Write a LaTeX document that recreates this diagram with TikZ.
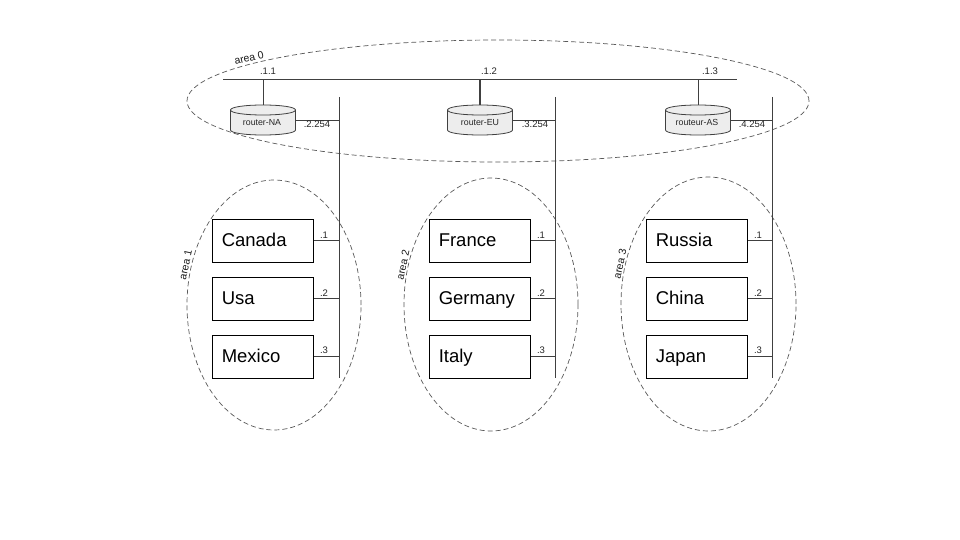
\documentclass[tikz,border=0pt]{standalone}
\usepackage{fontspec}
\setmainfont{Liberation Sans}
\usetikzlibrary{shapes.geometric}
\begin{document}
\begin{tikzpicture}[x=1pt,y=-1pt,
  wire/.style={draw=black!75,line width=0.8pt},
  thickwire/.style={draw=black!75,line width=1.6pt},
  area/.style={shape=ellipse,draw=black!65,dash pattern=on 5pt off 3pt,line width=0.7pt,inner sep=0pt},
  country/.style={shape=rectangle,draw=black,line width=0.8pt,minimum width=101.5pt,minimum height=43pt,inner sep=0pt,font=\fontsize{18.5}{20}\selectfont,text width=82pt,align=left,text height=11.2pt,text depth=0pt},
  router/.style={shape=rectangle,minimum width=65pt,minimum height=30pt,inner sep=0pt,font=\fontsize{8.8}{10}\selectfont,text=black!85,text height=12pt,text depth=0pt},
  cyl/.style={draw=black!75,fill=black!7,line width=0.8pt},
  cyltop/.style={draw=black!75,line width=0.8pt},
  lab/.style={font=\fontsize{9.5}{10}\selectfont,inner sep=0pt,text=black!85},
  arealab/.style={font=\fontsize{10.5}{12}\selectfont,inner sep=0pt,text=black!90}]
\useasboundingbox (0,0) rectangle (960,540);
\fill[white] (0,0) rectangle (960,540);
% areas
\node[area,minimum width=622pt,minimum height=122pt] (a0) at (498,101) {};
\node[area,minimum width=174pt,minimum height=250pt] (a1) at (274,305) {};
\node[area,minimum width=174pt,minimum height=253pt] (a2) at (491,304.5) {};
\node[area,minimum width=175pt,minimum height=254pt] (a3) at (708.5,304) {};
% buses
\coordinate (top1) at (223,79.5); \coordinate (top2) at (737,79.5);
\coordinate (t1) at (263,79.5); \coordinate (t2) at (480,79.5); \coordinate (t3) at (698,79.5);
\draw[wire] (top1) -- (top2);
\foreach \n/\x in {1/339,2/555.5,3/772.5}{
  \coordinate (s\n) at (\x,97);
  \coordinate (e\n) at (\x,378);
  \coordinate (r\n) at (\x,120);
  \coordinate (h\n a) at (\x,240.5);
  \coordinate (h\n b) at (\x,298.5);
  \coordinate (h\n c) at (\x,356.5);
  \draw[wire] (s\n) -- (e\n);
}
% router cylinders
\foreach \x in {263,480,698}{
  \begin{scope}[shift={(\x,120)}]
    \path[cyl] (-32.5,-10) .. controls (-32.5,-13) and (-18,-15) .. (0,-15)
      .. controls (18,-15) and (32.5,-13) .. (32.5,-10) -- (32.5,10)
      .. controls (32.5,13) and (18,15) .. (0,15)
      .. controls (-18,15) and (-32.5,13) .. (-32.5,10) -- cycle;
    \path[cyltop] (-32.5,-10) .. controls (-32.5,-7) and (-18,-5) .. (0,-5)
      .. controls (18,-5) and (32.5,-7) .. (32.5,-10);
  \end{scope}
}
\node[router] (rna) at (262,120) {router-NA};
\node[router] (reu) at (480,120) {router-EU};
\node[router] (ras) at (697,120) {routeur-AS};
\draw[wire] (t1) -- (t1 |- rna.north);
\draw[thickwire] (t2) -- (t2 |- reu.north);
\draw[wire] (t3) -- (t3 |- ras.north);
\draw[wire] (rna.east) ++(1,0) -- (r1);
\draw[wire] (reu.east) -- (r2);
\draw[wire] (ras.east) ++(1,0) -- (r3);
% countries
\node[country] (ca) at (262.75,240.5) {Canada};
\node[country] (us) at (262.75,298.5) {Usa};
\node[country] (mx) at (262.75,356.5) {Mexico};
\node[country] (fr) at (479.75,240.5) {France};
\node[country] (de) at (479.75,298.5) {Germany};
\node[country] (it) at (479.75,356.5) {Italy};
\node[country] (ru) at (696.75,240.5) {Russia};
\node[country] (cn) at (696.75,298.5) {China};
\node[country] (jp) at (696.75,356.5) {Japan};
\draw[wire] (ca.east) -- (h1a);
\draw[wire] (us.east) -- (h1b);
\draw[wire] (mx.east) -- (h1c);
\draw[wire] (fr.east) -- (h2a);
\draw[wire] (de.east) -- (h2b);
\draw[wire] (it.east) -- (h2c);
\draw[wire] (ru.east) -- (h3a);
\draw[wire] (cn.east) -- (h3b);
\draw[wire] (jp.east) -- (h3c);
% labels
\node[lab] (l1) at (268,71) {.1.1};
\node[lab] (l2) at (489,71) {.1.2};
\node[lab] (l3) at (710,71) {.1.3};
\node[lab] (l4) at (317,124) {.2.254};
\node[lab] (l5) at (535,124) {.3.254};
\node[lab] (l6) at (752,124) {.4.254};
\foreach \i/\x in {1/324,2/541,3/758}{
  \node[lab] (la\i) at (\x,235) {.1};
  \node[lab] (lb\i) at (\x,293) {.2};
  \node[lab] (lc\i) at (\x,350) {.3};
}
\node[arealab,rotate=13] (n0) at (249,58) {area 0};
\node[arealab,rotate=78] (n1) at (185.5,265) {area 1};
\node[arealab,rotate=78] (n2) at (403,265) {area 2};
\node[arealab,rotate=78] (n3) at (620,264) {area 3};
\end{tikzpicture}
\end{document}
